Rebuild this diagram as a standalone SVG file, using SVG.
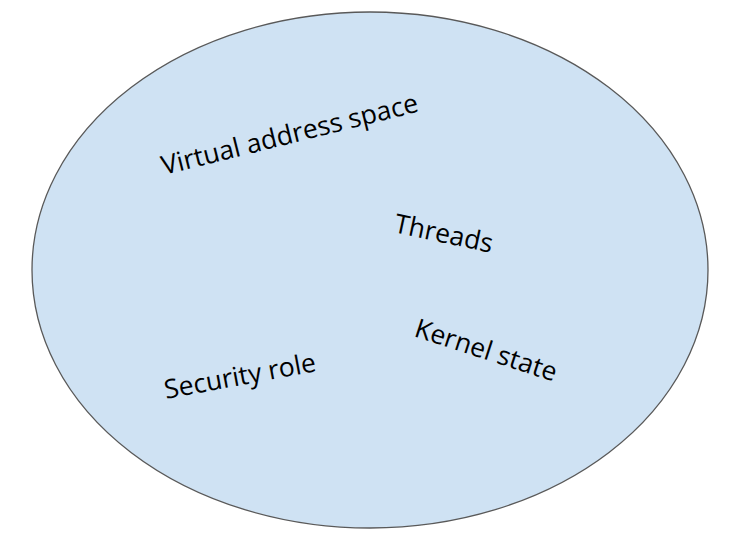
<svg xmlns="http://www.w3.org/2000/svg" width="735" height="542" viewBox="0 0 735 542">
<style>
.lbl{font-family:"Open Sans","Noto Sans",sans-serif;font-size:26.5px;fill:#000}
</style>
<rect width="735" height="542" fill="#ffffff"/>
<g id="process">
<ellipse cx="370" cy="270" rx="338" ry="258" fill="#cfe2f3" stroke="#595959" stroke-width="1.3"/>
</g>
<g id="virtual-address-space"><text class="lbl" x="164" y="175" transform="rotate(-14 164 175)">Virtual address space</text></g>
<g id="threads"><text class="lbl" x="393" y="232" transform="rotate(12 393 232)">Threads</text></g>
<g id="kernel-state"><text class="lbl" x="413" y="336" transform="rotate(18 413 336)">Kernel state</text></g>
<g id="security-role"><text class="lbl" x="166" y="399" transform="rotate(-10.5 166 399)">Security role</text></g>
<g id="connectors"></g>
</svg>
